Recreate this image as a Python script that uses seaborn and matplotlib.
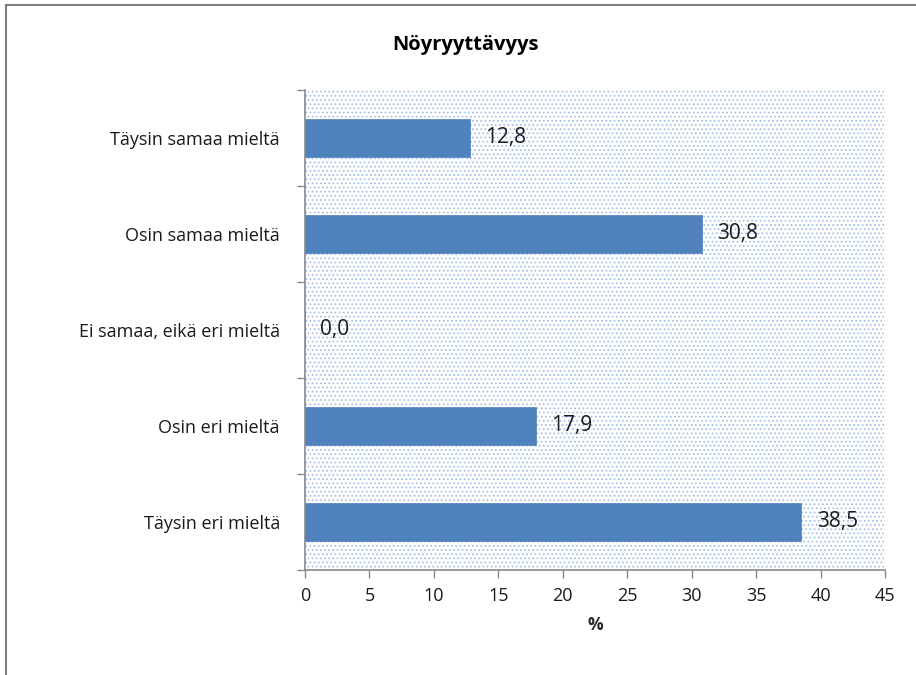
import numpy as np
import pandas as pd
import matplotlib.pyplot as plt
import seaborn as sns
from matplotlib.patches import Rectangle

categories = ['Täysin samaa mieltä', 'Osin samaa mieltä', 'Ei samaa, eikä eri mieltä',
              'Osin eri mieltä', 'Täysin eri mieltä']
percent = [12.8, 30.8, 0.0, 17.9, 38.5]
x_ticks = [0, 5, 10, 15, 20, 25, 30, 35, 40, 45]

sns.set_theme(style='white')
plt.rcParams['font.family'] = ['Open Sans', 'DejaVu Sans']
plt.rcParams['hatch.linewidth'] = 0.7

df = pd.DataFrame({'category': categories, 'percent': percent})

fig = plt.figure(figsize=(9.16, 6.75), dpi=100)
ax = fig.add_axes([305 / 916, 1 - 570 / 675, 580 / 916, 480 / 675])

# dotted plot area like the Excel chart
ax.set_facecolor('white')
bg = Rectangle((0, 0), 1, 1, transform=ax.transAxes, facecolor='white',
               edgecolor='#9ebce4', hatch='....', linewidth=0, zorder=0)
ax.add_patch(bg)

sns.barplot(data=df, x='percent', y='category', order=categories, color='#4f81bd',
            width=0.4, saturation=1, edgecolor='#4f81bd', linewidth=0.5, ax=ax, zorder=2)

for i, v in enumerate(percent):
    ax.text(v + 1.2, i, f'{v:.1f}'.replace('.', ','), va='center', ha='left',
            fontsize=15, color='#1a1a1a')

ax.set_xlim(0, 45)
ax.set_ylim(4.5, -0.5)
ax.set_xticks(x_ticks)
ax.set_xticklabels([str(t) for t in x_ticks], fontsize=13, color='#1a1a1a')
ax.set_yticks(range(len(categories)))
ax.set_yticklabels(categories, fontsize=13, color='#1a1a1a')
ax.set_yticks(np.arange(-0.5, 5, 1), minor=True)
ax.tick_params(axis='y', which='major', length=0, pad=18)
ax.tick_params(axis='y', which='minor', length=6, color='#888888', width=1, left=True)
ax.tick_params(axis='x', which='major', length=6, color='#888888', width=1, bottom=True, pad=6)
ax.set_xlabel('%', fontsize=12.5, fontweight='bold', labelpad=8)
ax.set_ylabel('')

for side in ['top', 'right']:
    ax.spines[side].set_visible(False)
for side in ['left', 'bottom']:
    ax.spines[side].set_color('#888888')
    ax.spines[side].set_linewidth(1.2)

fig.text(465 / 916, 1 - 45 / 675, 'Nöyryyttävyys', ha='center', va='center',
         fontsize=14.5, fontweight='bold', color='black')

# outer chart frame
fig.patches.append(Rectangle((6 / 916, -0.01), 1.01, 1 - 5 / 675 + 0.01, transform=fig.transFigure,
                             fill=False, edgecolor='#7f7f7f', linewidth=1.5))

fig.savefig('out.png', dpi=100)
